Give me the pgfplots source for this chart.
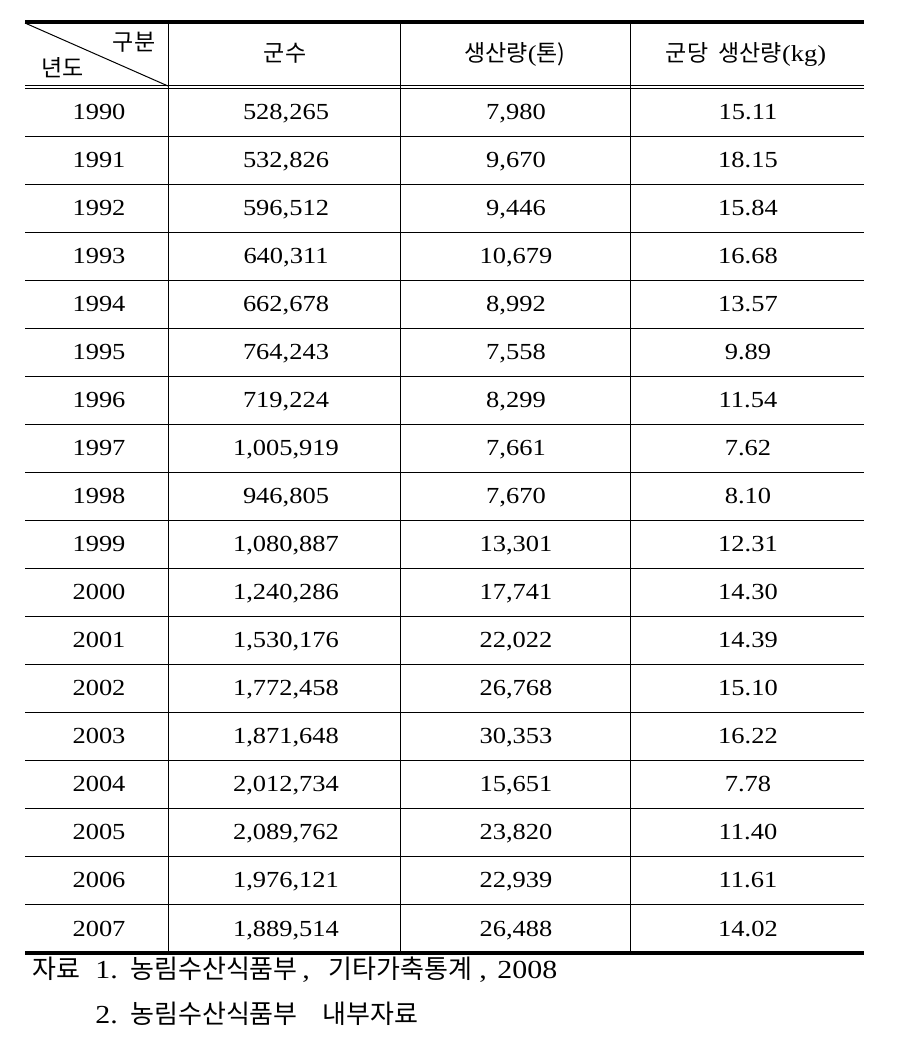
\documentclass[border=0pt]{standalone}
\usepackage{pgfplots}
\usepackage{pgfplotstable}
\pgfplotsset{compat=1.18}
\usepackage{fontspec}
\setmainfont{Liberation Serif}[FakeStretch=1.15]
\newfontfamily\kr{Noto Sans CJK KR}

% y = row centre in pixels of the 909x1040 reference
\pgfplotstableread{
y   year cnt        prod   per
112 1990 528,265    7,980  15.11
160 1991 532,826    9,670  18.15
208 1992 596,512    9,446  15.84
256 1993 640,311    10,679 16.68
304 1994 662,678    8,992  13.57
352 1995 764,243    7,558  9.89
400 1996 719,224    8,299  11.54
448 1997 1,005,919  7,661  7.62
496 1998 946,805    7,670  8.10
544 1999 1,080,887  13,301 12.31
592 2000 1,240,286  17,741 14.30
640 2001 1,530,176  22,022 14.39
688 2002 1,772,458  26,768 15.10
736 2003 1,871,648  30,353 16.22
784 2004 2,012,734  15,651 7.78
832 2005 2,089,762  23,820 11.40
880 2006 1,976,121  22,939 11.61
929 2007 1,889,514  26,488 14.02
}\datatable

\begin{document}
\begin{tikzpicture}
\begin{axis}[
    scale only axis,
    width=454.5pt, height=520pt,
    xmin=0, xmax=909, ymin=0, ymax=1040,
    y dir=reverse,
    axis line style={draw=none},
    ticks=none,
    clip=false,
    txt/.style={draw=none, mark=none, point meta=explicit symbolic,
        nodes near coords, nodes near coords align={anchor=center},
        every node near coord/.append style={text=black, inner sep=0pt,
            text height=7.7pt, text depth=0pt,
            font=\fontsize{11.5}{14}\selectfont}},
    foot/.style={draw=none, mark=none, point meta=explicit symbolic,
        nodes near coords, nodes near coords align={anchor=base west},
        every node near coord/.append style={text=black, inner sep=0pt,
            font=\fontsize{13}{15}\selectfont}},
    rule/.style={black, mark=none, line width=0.5pt},
]
% rules
\addplot[rule, line width=2pt] coordinates {(25,22) (864,22)};
\addplot[rule, line width=2pt] coordinates {(25,953) (864,953)};
\addplot[rule] coordinates {(25,85.5) (864,85.5)};
\addplot[rule] coordinates {(25,88.5) (864,88.5)};
\pgfplotsinvokeforeach{136,184,232,280,328,376,424,472,520,568,616,664,712,760,808,856,904}{
  \addplot[rule] coordinates {(25,#1) (864,#1)};
}
\addplot[rule] coordinates {(168,22) (168,952)};
\addplot[rule] coordinates {(400,22) (400,952)};
\addplot[rule] coordinates {(630.5,22) (630.5,952)};
\addplot[rule] coordinates {(25,23) (168,86)};

% header
\addplot[txt] coordinates {
  (134,43) [{\kr 구분}]
  (63,69) [{\kr 년도}]
  (285,54) [{\kr 군수}]
  (515,54) [{{\kr 생산량}(\kr 톤)}]
  (746,54) [{{\kr 군당\ \ 생산량}(kg)}]
};

% body
\addplot[txt] table[x expr=99, y=y, meta=year] {\datatable};
\addplot[txt] table[x expr=286, y=y, meta=cnt] {\datatable};
\addplot[txt] table[x expr=516, y=y, meta=prod] {\datatable};
\addplot[txt] table[x expr=748, y=y, meta=per] {\datatable};

% source note
\addplot[foot] coordinates {
  (32,978) [{\kr 자료}]
  (95,978) [1.]
  (130,978) [{\kr 농림수산식품부}]
  (302,978) [,]
  (328,978) [{\kr 기타가축통계}]
  (479,978) [,]
  (497,978) [2008]
  (95,1023) [2.]
  (130,1023) [{\kr 농림수산식품부}]
  (322,1023) [{\kr 내부자료}]
};
\end{axis}
\end{tikzpicture}
\end{document}
